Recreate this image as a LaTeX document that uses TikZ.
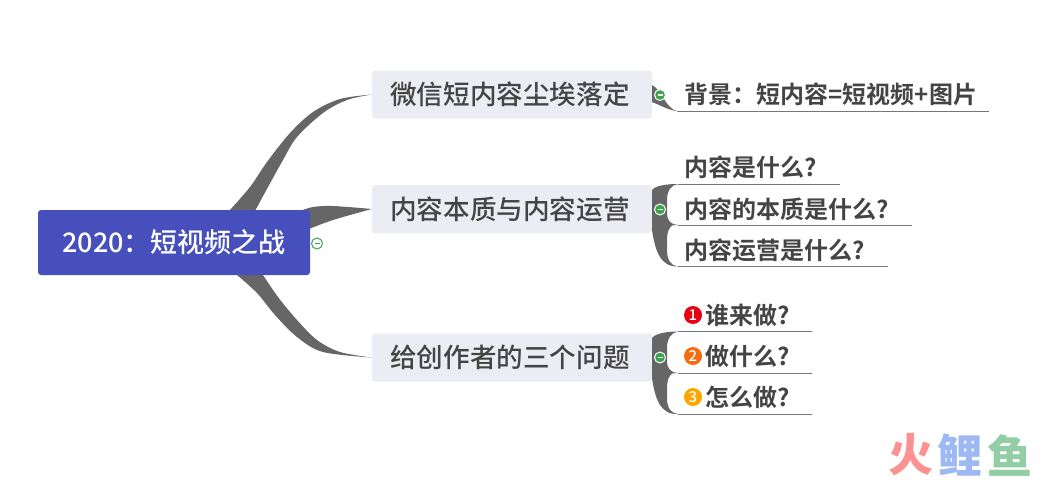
\documentclass[tikz,border=0pt]{standalone}
\usetikzlibrary{backgrounds}
\usepackage{fontspec}
\setmainfont{Noto Sans CJK SC}[UprightFont=* Medium,BoldFont=* Bold]
\newfontfamily\heavycjk{Noto Sans CJK SC Black}
\definecolor{rootblue}{HTML}{464FBC}
\definecolor{topicbg}{HTML}{ECECF4}
\definecolor{branch}{HTML}{666666}
\definecolor{ink}{HTML}{444444}
\definecolor{rulegray}{HTML}{777777}
\definecolor{foldgreen}{HTML}{3FA34D}
\definecolor{wmred}{HTML}{FB9191}
\definecolor{wmblue}{HTML}{9DB8F2}
\definecolor{wmgreen}{HTML}{93CDA5}
\definecolor{badgea}{HTML}{E60012}
\definecolor{badgeb}{HTML}{F56B12}
\definecolor{badgec}{HTML}{FFA500}
\tikzset{
  rootbox/.style={fill=rootblue,rounded corners=3pt,inner sep=0pt,minimum width=272pt,minimum height=65pt,text=white,font=\fontsize{27}{30}\selectfont},
  topicbox/.style={fill=topicbg,rounded corners=3pt,inner sep=0pt,minimum width=280pt,minimum height=48pt},
  topictext/.style={inner sep=0pt,text=ink,font=\fontsize{26.6}{30}\selectfont},
  leaf/.style={anchor=west,inner sep=0pt,text=ink,font=\fontsize{24}{28}\selectfont\bfseries},
  rulestyle/.style={draw=rulegray,line width=1pt},
  limb/.style={fill=branch,draw=none},
  foldbtn/.style={circle,fill=foldgreen,draw=white,line width=1pt,minimum size=11pt,inner sep=0pt},
  foldopen/.style={circle,fill=white,draw=foldgreen,line width=1pt,minimum size=11pt,inner sep=0pt},
  badge/.style={circle,minimum size=18pt,inner sep=0pt,text=white,font=\fontsize{15}{15}\selectfont},
  wmark/.style={inner sep=0pt,font=\heavycjk\fontsize{45}{48}\selectfont},
}
\begin{document}
\begin{tikzpicture}[x=1pt,y=-1pt]
\useasboundingbox (0,0) rectangle (1057,479);

\node[rootbox] (root) at (174,242.5) {2020：短视频之战};
\node[topicbox] (topicA) at (512,94.5) {};
\node[topicbox] (topicB) at (512,209) {};
\node[topicbox] (topicC) at (512,357.5) {};
\node[topictext] (ta) at (510,94.5) {微信短内容尘埃落定};
\node[topictext] (tb) at (510,209) {内容本质与内容运营};
\node[topictext] (tc) at (510,357.5) {给创作者的三个问题};

% tapered main branches, from the root to each topic
\begin{scope}[on background layer]
\fill[limb] plot[smooth,tension=.55] coordinates {(229,211) (250,187) (267,162) (290,133) (313,112) (340,99) (topicA.west)}
  -- plot[smooth,tension=.55] coordinates {(topicA.west) (347,100) (323,113) (297,137) (283,160) (268,187) (255,211)} -- cycle;
\fill[limb] plot[smooth,tension=.55] coordinates {(300,211) (313,207) (333,206) (topicB.west)}
  -- plot[smooth,tension=.55] coordinates {(topicB.west) (333,220) (309,229)} -- cycle;
\fill[limb] plot[smooth,tension=.55] coordinates {(263,275) (278,297) (297,320) (317,340) (340,352) (topicC.west)}
  -- plot[smooth,tension=.55] coordinates {(topicC.west) (323,352) (297,337) (275,315) (257,293) (237,275)} -- cycle;
\end{scope}

% leaves
\node[leaf] (la) at (684.5,94.5) {背景：短内容=短视频+图片};
\node[leaf] (lb1) at (684.5,167.5) {内容是什么?};
\node[leaf] (lb2) at (684.5,209) {内容的本质是什么?};
\node[leaf] (lb3) at (684.5,250) {内容运营是什么?};
\node[badge,fill=badgea] (n1) at (693,315) {1};
\node[badge,fill=badgeb] (n2) at (693,356) {2};
\node[badge,fill=badgec] (n3) at (693,397) {3};
\node[leaf] (lc1) at (705,315.5) {谁来做?};
\node[leaf] (lc2) at (705,356.5) {做什么?};
\node[leaf] (lc3) at (705,397.5) {怎么做?};

% leaf connectors
\coordinate (ea) at (677,111); \coordinate (ea2) at (989,111);
\fill[limb] (652,85) .. controls (662,90) and (665,108) .. (ea)
  .. controls (668,110) and (660,105) .. (652,102) -- cycle;
\draw[rulestyle] (ea) -- (ea2);

\coordinate (eb1) at (678,184); \coordinate (eb2) at (678,225); \coordinate (eb3) at (678,266.5);
\coordinate (eb1r) at (840,184); \coordinate (eb2r) at (912,225); \coordinate (eb3r) at (888,266.5);
\fill[limb] (652,190) .. controls (655,186) and (665,184) .. (eb1)
  .. controls (671,185) and (667,191) .. (667,200) -- (667,214)
  .. controls (667,220) and (671,225) .. (eb2) -- (672,225.5)
  .. controls (669,228) and (667,232) .. (667,240) -- (667,250)
  .. controls (667,260) and (671,266) .. (eb3)
  .. controls (660,267) and (655,250) .. (652,230) -- cycle;
\draw[rulestyle] (eb1) -- (eb1r); \draw[rulestyle] (eb2) -- (eb2r); \draw[rulestyle] (eb3) -- (eb3r);

\coordinate (ec1) at (678,331.5); \coordinate (ec2) at (678,373); \coordinate (ec3) at (678,414);
\coordinate (ec1r) at (812,331.5); \coordinate (ec2r) at (812,373); \coordinate (ec3r) at (812,414);
\fill[limb] (652,338) .. controls (655,334) and (665,331.5) .. (ec1)
  .. controls (671,332.5) and (667,339) .. (667,348) -- (667,362)
  .. controls (667,368) and (671,373) .. (ec2) -- (672,373.5)
  .. controls (669,376) and (667,380) .. (667,388) -- (667,398)
  .. controls (667,408) and (671,413.5) .. (ec3)
  .. controls (660,415) and (655,398) .. (652,378) -- cycle;
\draw[rulestyle] (ec1) -- (ec1r); \draw[rulestyle] (ec2) -- (ec2r); \draw[rulestyle] (ec3) -- (ec3r);

% fold buttons
\node[foldopen] (f0) at (317,243.5) {};
\draw[foldgreen,line width=1pt] ([xshift=-2.5pt]f0.center) -- ([xshift=2.5pt]f0.center);
\foreach \nm/\yy in {fa/95,fb/209.5,fc/357.5}{
  \node[foldbtn] (\nm) at (660,\yy) {};
  \draw[white,line width=1.2pt] ([xshift=-2.5pt]\nm.center) -- ([xshift=2.5pt]\nm.center);
}

% watermark
\node[wmark,text=wmred] (w1) at (911,455) {火};
\node[wmark,text=wmblue] (w2) at (960,455) {鲤};
\node[wmark,text=wmgreen] (w3) at (1010,455) {鱼};
\end{tikzpicture}
\end{document}
